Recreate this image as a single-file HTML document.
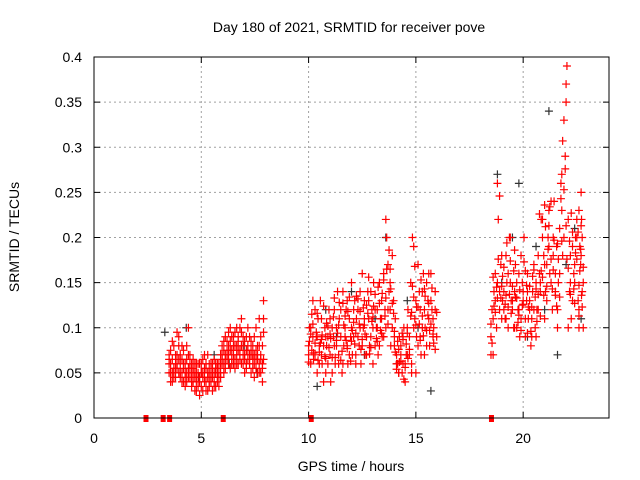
<!DOCTYPE html>
<html><head><meta charset="utf-8"><style>
body{margin:0;background:#fff}
svg{display:block;font-family:"Liberation Sans",sans-serif}
</style></head><body>
<svg width="640" height="480" viewBox="0 0 640 480">
<rect width="640" height="480" fill="#fff"/>
<g id="grid"></g>
<g id="axes"></g>
<g id="marks"></g>
<rect x="94" y="57" width="515" height="361" fill="none" stroke="#000" stroke-width="1"/>
<text x="349" y="32" text-anchor="middle" font-size="14">Day 180 of 2021, SRMTID for receiver pove</text>
<text x="351" y="471" text-anchor="middle" font-size="14">GPS time / hours</text>
<text transform="translate(19,237) rotate(-90)" text-anchor="middle" font-size="14">SRMTID / TECUs</text>
</svg>
<script>
const xTicks=[0,5,10,15,20];
const yTicks=[0,0.05,0.1,0.15,0.2,0.25,0.3,0.35,0.4];
const yTickLabels=["0","0.05","0.1","0.15","0.2","0.25","0.3","0.35","0.4"];
const seg1X=[3.5,3.57,3.65,3.72,3.8,3.87,3.95,4.02,4.1,4.17,4.25,4.32,4.4,4.47,4.55,4.62,4.7,4.77,4.85,4.92,5.0,5.07,5.15,5.22,5.3,5.37,5.45,5.52,5.6,5.67,5.75,5.82,5.9,5.97,6.05,6.12,6.2,6.27,6.35,6.42,6.5,6.57,6.65,6.72,6.8,6.87,6.95,7.02,7.1,7.17,7.25,7.32,7.4,7.47,7.55,7.62,7.7,7.77,7.85,7.9];
const seg1A=[0.07,0.06,0.05,0.08,0.045,0.06,0.09,0.07,0.05,0.04,0.06,0.08,0.1,0.07,0.05,0.04,0.06,0.05,0.035,0.045,0.06,0.05,0.04,0.055,0.07,0.05,0.04,0.03,0.05,0.06,0.045,0.035,0.05,0.065,0.075,0.09,0.065,0.08,0.1,0.075,0.06,0.08,0.07,0.09,0.1,0.08,0.06,0.07,0.09,0.075,0.06,0.085,0.08,0.07,0.1,0.065,0.11,0.09,0.06,0.13];
const seg1B=[0.05,0.04,0.065,0.055,0.06,0.095,0.05,0.045,0.08,0.06,0.035,0.05,0.07,0.045,0.06,0.055,0.03,0.04,0.05,0.06,0.035,0.045,0.07,0.04,0.03,0.06,0.05,0.045,0.04,0.035,0.055,0.05,0.07,0.06,0.05,0.07,0.085,0.06,0.055,0.09,0.08,0.065,0.1,0.06,0.075,0.095,0.07,0.085,0.06,0.1,0.07,0.05,0.065,0.09,0.055,0.07,0.06,0.05,0.08,0.065];
const seg1C=[0.06,0.075,0.04,0.05,0.07,0.055,0.065,0.06,0.04,0.075,0.05,0.065,0.045,0.055,0.04,0.065,0.05,0.06,0.045,0.025,0.05,0.065,0.055,0.03,0.045,0.04,0.06,0.055,0.065,0.05,0.04,0.06,0.045,0.08,0.06,0.055,0.07,0.095,0.075,0.065,0.09,0.055,0.08,0.075,0.065,0.11,0.08,0.05,0.075,0.065,0.09,0.07,0.055,0.045,0.075,0.08,0.05,0.07,0.04,0.11];
const seg1D=[0.065,0.05,0.085,0.045,0.055,0.07,0.08,0.05,0.065,0.055,0.045,0.04,0.055,0.06,0.035,0.05,0.045,0.03,0.06,0.04,0.05,0.03,0.045,0.06,0.05,0.035,0.045,0.06,0.035,0.055,0.06,0.045,0.06,0.07,0.085,0.065,0.075,0.07,0.085,0.06,0.07,0.095,0.06,0.085,0.07,0.06,0.09,0.065,0.055,0.08,0.06,0.075,0.07,0.06,0.065,0.05,0.08,0.065,0.055,0.095];
const seg2X=[10.0,10.1,10.2,10.3,10.4,10.5,10.6,10.7,10.8,10.9,11.0,11.1,11.2,11.3,11.4,11.5,11.6,11.7,11.8,11.9,12.0,12.1,12.2,12.3,12.4,12.5,12.6,12.7,12.8,12.9,13.0,13.1,13.2,13.3,13.4,13.5,13.6,13.7,13.8,13.9,14.0,14.1,14.2,14.3,14.4,14.5,14.6,14.7,14.8,14.9,15.0,15.1,15.2,15.3,15.4,15.5,15.6,15.7,15.8,15.9];
const seg2X2=[10.04,10.15,10.23,10.36,10.44,10.55,10.63,10.76,10.84,10.95,11.03,11.16,11.24,11.35,11.43,11.56,11.64,11.75,11.83,11.96,12.04,12.15,12.23,12.36,12.44,12.55,12.63,12.76,12.84,12.95,13.03,13.16,13.24,13.35,13.43,13.56,13.64,13.75,13.83,13.96,14.04,14.15,14.23,14.36,14.44,14.55,14.63,14.76,14.84,14.95,15.03,15.16,15.24,15.35,15.43,15.56,15.64,15.75,15.83,15.97];
const seg2A=[0.08,0.1,0.13,0.07,0.09,0.06,0.11,0.08,0.05,0.09,0.07,0.1,0.12,0.08,0.06,0.09,0.14,0.1,0.08,0.11,0.15,0.09,0.07,0.12,0.1,0.16,0.13,0.09,0.11,0.14,0.1,0.08,0.12,0.15,0.11,0.09,0.22,0.17,0.12,0.1,0.08,0.06,0.05,0.07,0.09,0.06,0.1,0.07,0.06,0.19,0.05,0.08,0.12,0.1,0.07,0.15,0.16,0.13,0.11,0.14];
const seg2B=[0.07,0.06,0.09,0.12,0.05,0.08,0.07,0.04,0.09,0.06,0.11,0.05,0.08,0.1,0.07,0.12,0.06,0.09,0.13,0.07,0.1,0.12,0.06,0.09,0.14,0.08,0.11,0.07,0.13,0.09,0.06,0.12,0.1,0.08,0.13,0.16,0.1,0.12,0.15,0.18,0.09,0.07,0.05,0.08,0.06,0.04,0.07,0.09,0.05,0.1,0.13,0.17,0.09,0.14,0.12,0.08,0.11,0.16,0.09,0.12];
const seg2C=[0.1,0.075,0.065,0.09,0.11,0.13,0.06,0.1,0.08,0.12,0.04,0.09,0.06,0.14,0.11,0.05,0.08,0.12,0.06,0.09,0.07,0.13,0.11,0.08,0.06,0.1,0.07,0.14,0.08,0.12,0.15,0.1,0.07,0.11,0.09,0.12,0.2,0.14,0.08,0.13,0.11,0.06,0.09,0.05,0.1,0.07,0.12,0.15,0.2,0.11,0.09,0.14,0.07,0.16,0.1,0.13,0.08,0.12,0.1,0.09];
const seg2D=[0.085,0.115,0.072,0.095,0.064,0.083,0.092,0.068,0.105,0.078,0.088,0.112,0.067,0.094,0.128,0.074,0.103,0.086,0.118,0.063,0.097,0.082,0.135,0.104,0.076,0.122,0.093,0.116,0.071,0.107,0.124,0.088,0.145,0.097,0.138,0.113,0.165,0.186,0.143,0.116,0.073,0.085,0.062,0.094,0.043,0.082,0.066,0.113,0.146,0.168,0.123,0.104,0.153,0.091,0.135,0.114,0.097,0.144,0.083,0.117];
const seg2E=[0.062,0.093,0.104,0.083,0.116,0.073,0.087,0.124,0.066,0.102,0.093,0.067,0.133,0.086,0.103,0.064,0.127,0.113,0.077,0.134,0.085,0.106,0.094,0.132,0.118,0.087,0.103,0.125,0.156,0.078,0.112,0.137,0.085,0.127,0.094,0.153,0.133,0.104,0.165,0.127,0.096,0.054,0.076,0.063,0.087,0.056,0.094,0.076,0.117,0.134,0.103,0.123,0.086,0.113,0.143,0.097,0.127,0.104,0.093,0.076];
const seg3X=[18.5,18.6,18.7,18.8,18.9,19.0,19.1,19.2,19.3,19.4,19.5,19.6,19.7,19.8,19.9,20.0,20.1,20.2,20.3,20.4,20.5,20.6,20.7,20.8,20.9,21.0,21.1,21.2,21.3,21.4,21.5,21.6,21.7,21.8,21.9,22.0,22.1,22.2,22.3,22.4,22.5,22.6,22.7,22.75,22.8];
const seg3X2=[18.55,18.64,18.76,18.84,18.96,19.04,19.16,19.24,19.36,19.44,19.56,19.64,19.76,19.84,19.96,20.04,20.16,20.24,20.36,20.44,20.56,20.64,20.76,20.84,20.96,21.04,21.16,21.24,21.36,21.44,21.56,21.64,21.76,21.84,21.96,22.04,22.16,22.24,22.36,22.44,22.56,22.64,22.72,22.68,22.6];
const seg3A=[0.09,0.07,0.13,0.15,0.12,0.18,0.14,0.11,0.16,0.2,0.13,0.1,0.15,0.12,0.18,0.14,0.11,0.16,0.13,0.09,0.12,0.15,0.18,0.14,0.22,0.17,0.13,0.19,0.24,0.2,0.16,0.12,0.21,0.27,0.33,0.37,0.22,0.15,0.19,0.17,0.2,0.23,0.18,0.14,0.1];
const seg3B=[0.12,0.14,0.1,0.22,0.17,0.13,0.11,0.15,0.2,0.13,0.1,0.17,0.12,0.09,0.15,0.2,0.13,0.11,0.08,0.14,0.1,0.12,0.16,0.22,0.18,0.14,0.2,0.16,0.12,0.24,0.19,0.15,0.26,0.18,0.29,0.39,0.14,0.11,0.16,0.2,0.13,0.19,0.22,0.17,0.12];
const seg3C=[0.07,0.11,0.16,0.26,0.14,0.11,0.12,0.18,0.1,0.15,0.12,0.14,0.1,0.16,0.11,0.13,0.09,0.14,0.12,0.11,0.17,0.09,0.12,0.15,0.2,0.11,0.17,0.23,0.15,0.18,0.14,0.1,0.16,0.23,0.2,0.35,0.1,0.18,0.13,0.15,0.22,0.1,0.25,0.2,0.15];
const seg3D=[0.083,0.124,0.145,0.176,0.133,0.157,0.126,0.194,0.137,0.116,0.163,0.134,0.106,0.142,0.125,0.173,0.147,0.123,0.096,0.157,0.134,0.107,0.226,0.163,0.136,0.212,0.187,0.234,0.143,0.197,0.124,0.176,0.243,0.307,0.276,0.176,0.196,0.227,0.143,0.183,0.206,0.163,0.136,0.187,0.113];
const seg3E=[0.104,0.156,0.117,0.133,0.246,0.146,0.167,0.136,0.123,0.174,0.146,0.186,0.133,0.114,0.097,0.126,0.163,0.094,0.146,0.123,0.164,0.143,0.137,0.113,0.156,0.236,0.146,0.213,0.176,0.164,0.136,0.193,0.134,0.196,0.253,0.213,0.166,0.137,0.206,0.127,0.176,0.147,0.213,0.123,0.167];
const blackX=[3.3,4.3,4.9,5.6,6.3,7.0,7.6,10.4,10.8,11.3,12.0,12.6,13.1,13.6,14.1,14.6,15.1,15.7,18.8,19.0,19.5,19.8,20.2,20.6,21.0,21.2,21.6,22.0,22.4,22.7];
const blackY=[0.095,0.1,0.045,0.07,0.06,0.08,0.05,0.035,0.12,0.09,0.14,0.07,0.11,0.2,0.06,0.13,0.1,0.03,0.27,0.15,0.2,0.26,0.09,0.19,0.12,0.34,0.07,0.17,0.21,0.11];
const zeroX=[2.4,3.2,3.5,6.0,10.1,18.5];

const NS="http://www.w3.org/2000/svg";
const X0=94,X1=609,Y0=418,Y1=57;
function sx(v){return X0+v/24*(X1-X0);}
function sy(v){return Y0-v/0.4*(Y0-Y1);}
function mk(tag,attrs,parent){const e=document.createElementNS(NS,tag);for(const k in attrs)e.setAttribute(k,attrs[k]);parent.appendChild(e);return e;}
const grid=document.getElementById('grid'),axes=document.getElementById('axes'),marks=document.getElementById('marks');
xTicks.forEach(t=>{
  const x=sx(t);
  if(t>0){const g=mk('line',{x1:x,x2:x,y1:Y0,y2:Y1,stroke:'#a0a0a0','stroke-dasharray':'2,3'},grid);
  
  }
  mk('line',{x1:x,x2:x,y1:Y0,y2:Y0-6,stroke:'#000'},axes);
  mk('line',{x1:x,x2:x,y1:Y1,y2:Y1+6,stroke:'#000'},axes);
  const l=mk('text',{x:x,y:443,'text-anchor':'middle','font-size':'14'},axes);l.textContent=t;
  
  
});
yTicks.forEach((t,i)=>{
  const y=sy(t);
  if(t>0&&t<0.4){const g=mk('line',{x1:X0,x2:X1,y1:y,y2:y,stroke:'#a0a0a0','stroke-dasharray':'2,3'},grid);
  
  }
  mk('line',{x1:X0,x2:X0+6,y1:y,y2:y,stroke:'#000'},axes);
  mk('line',{x1:X1,x2:X1-6,y1:y,y2:y,stroke:'#000'},axes);
  const l=mk('text',{x:82,y:y+5,'text-anchor':'end','font-size':'14'},axes);l.textContent=yTickLabels[i];
  
  
});
function plus(xv,yv,col){
  const x=sx(xv),y=sy(yv);
  const p=mk('path',{d:`M${x-4},${y}H${x+4}M${x},${y-4}V${y+4}`,stroke:col,'stroke-width':'1.2',fill:'none'},marks);
  
  
}
blackX.forEach((x,i)=>plus(x,blackY[i],'#333'));
[[seg1X,seg1A],[seg1X,seg1B],[seg1X,seg1C],[seg1X,seg1D],[seg2X,seg2A],[seg2X,seg2B],[seg2X2,seg2C],[seg2X2,seg2D],[seg2X,seg2E],[seg3X,seg3A],[seg3X2,seg3B],[seg3X,seg3C],[seg3X2,seg3D],[seg3X,seg3E]].forEach(([xs,ys])=>{
  xs.forEach((x,i)=>{if(ys[i]!==undefined)plus(x,ys[i],'#f00');});
});
zeroX.forEach(x=>{
  const r=mk('rect',{x:sx(x)-2,y:Y0-3,width:5,height:7,fill:'#f00'},marks);
  
  
});
</script>
</body></html>
